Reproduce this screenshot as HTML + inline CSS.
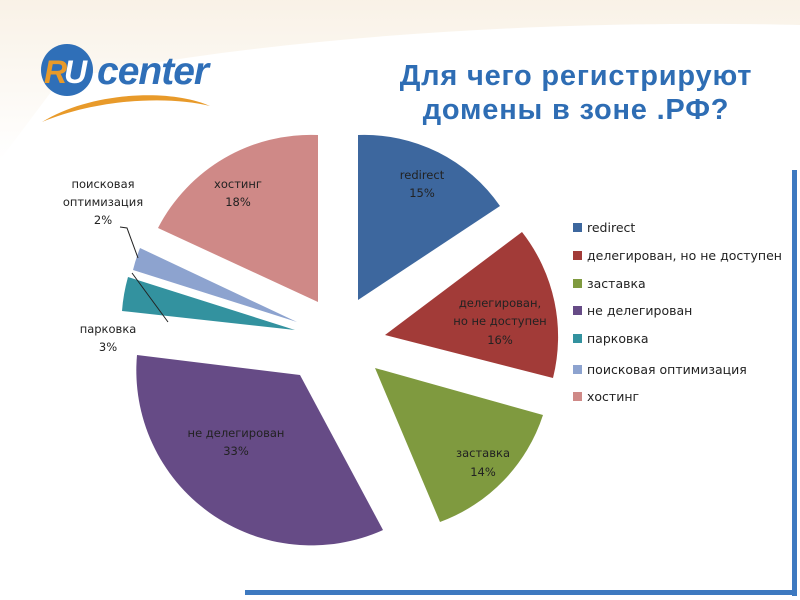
<!DOCTYPE html>
<html><head><meta charset="utf-8"><style>
html,body{margin:0;padding:0;background:#fff}
body{width:800px;height:600px;overflow:hidden;position:relative;font-family:"Liberation Sans",sans-serif}
</style></head><body>
<svg width="800" height="600" viewBox="0 0 800 600" xmlns="http://www.w3.org/2000/svg" style="position:absolute;left:0;top:0">
<defs>
<linearGradient id="bg" x1="0" y1="0" x2="0" y2="1">
<stop offset="0" stop-color="#f6ecdc"/><stop offset="1" stop-color="#ffffff"/>
</linearGradient>
</defs>
<path d="M0,0 H800 V25 C600,20 300,30 60,80 L0,160 Z" fill="url(#bg)" opacity="0.7"/>
<!-- logo -->
<circle cx="67" cy="70" r="26" fill="#2f6fb8"/>
<text x="44" y="83" font-size="32" font-weight="bold" font-style="italic" fill="#e89a2a">R</text>
<text x="64" y="83" font-size="32" font-weight="bold" font-style="italic" fill="#fff">U</text>
<text x="97" y="84" font-size="39" font-weight="bold" font-style="italic" fill="#2f6fb8" letter-spacing="-1">center</text>
<path d="M42,122 C90,92 170,88 210,106 C170,96 100,98 42,122 Z" fill="#e89a2a"/>
<!-- title -->
<text x="576" y="85" font-size="29" font-weight="bold" fill="#2e6db4" text-anchor="middle" letter-spacing="0.8">Для чего регистрируют</text>
<text x="576" y="119" font-size="29" font-weight="bold" fill="#2e6db4" text-anchor="middle" letter-spacing="0.8">домены в зоне .РФ?</text>
<!-- frame -->
<rect x="792" y="170" width="5" height="426" fill="#3d79c0"/>
<rect x="245" y="590" width="552" height="5" fill="#3d79c0"/>
<!-- pie -->
<path d="M358,300 L358,135 A165,165 0 0 1 500,206 Z" fill="#3d679e"/>
<path d="M385,335 L522,232 A170,170 0 0 1 553,378 Z" fill="#a23b38"/>
<path d="M375,368 L543,415 A170,170 0 0 1 440,522 Z" fill="#7f9a3f"/>
<path d="M300,375 L383,530 A175,175 0 0 1 137,355 Z" fill="#664b86"/>
<path d="M295,330 L122,311 A173,173 0 0 1 128,277 Z" fill="#33929f"/>
<path d="M297,322 L133,270 A172,172 0 0 1 140,248 Z" fill="#8da3cf"/>
<path d="M318,302 L158,228 A172,172 0 0 1 318,135 Z" fill="#cf8987"/>
<!-- leaders -->
<polyline points="120,227 127,228 138,258" fill="none" stroke="#222" stroke-width="1"/>
<line x1="132" y1="273" x2="168" y2="322" stroke="#222" stroke-width="1"/>
<g font-size="11.5" fill="#222" text-anchor="middle" font-family="DejaVu Sans, sans-serif">
<text x="422" y="179">redirect</text><text x="422" y="197">15%</text>
<text x="500" y="307">делегирован,</text><text x="500" y="325">но не доступен</text><text x="500" y="344">16%</text>
<text x="483" y="457">заставка</text><text x="483" y="476">14%</text>
<text x="236" y="437">не делегирован</text><text x="236" y="455">33%</text>
<text x="108" y="333">парковка</text><text x="108" y="351">3%</text>
<text x="103" y="188">поисковая</text><text x="103" y="206">оптимизация</text><text x="103" y="224">2%</text>
<text x="238" y="188">хостинг</text><text x="238" y="206">18%</text>
</g>
<!-- legend -->
<g font-size="12.5" fill="#222" font-family="DejaVu Sans, sans-serif">
<rect x="573" y="223" width="9" height="9" fill="#3d679e"/><text x="587" y="232">redirect</text>
<rect x="573" y="251" width="9" height="9" fill="#a23b38"/><text x="587" y="260">делегирован, но не доступен</text>
<rect x="573" y="279" width="9" height="9" fill="#7f9a3f"/><text x="587" y="288">заставка</text>
<rect x="573" y="306" width="9" height="9" fill="#664b86"/><text x="587" y="315">не делегирован</text>
<rect x="573" y="334" width="9" height="9" fill="#33929f"/><text x="587" y="343">парковка</text>
<rect x="573" y="365" width="9" height="9" fill="#8da3cf"/><text x="587" y="374">поисковая оптимизация</text>
<rect x="573" y="392" width="9" height="9" fill="#cf8987"/><text x="587" y="401">хостинг</text>
</g>
</svg>
</body></html>
